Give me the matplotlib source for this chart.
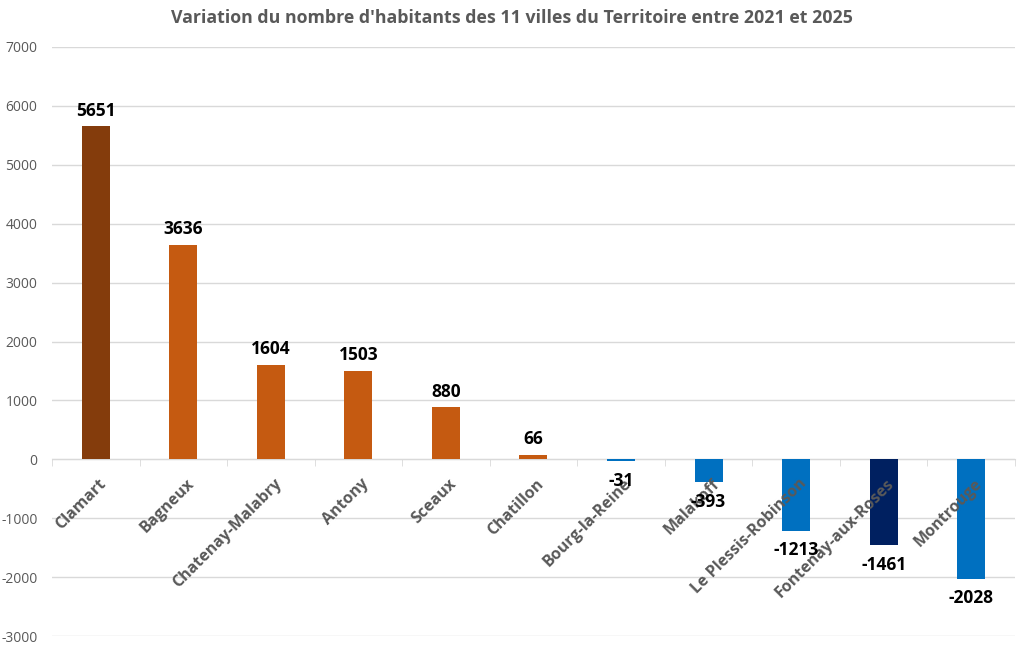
import matplotlib
matplotlib.use("Agg")
import matplotlib.pyplot as plt
import numpy as np

villes = ["Clamart", "Bagneux", "Chatenay-Malabry", "Antony", "Sceaux", "Chatillon",
          "Bourg-la-Reine", "Malakoff", "Le Plessis-Robinson", "Fontenay-aux-Roses", "Montrouge"]
variation = [5651, 3636, 1604, 1503, 880, 66, -31, -393, -1213, -1461, -2028]
couleurs = ["#843C0C", "#C55A11", "#C55A11", "#C55A11", "#C55A11", "#C55A11",
            "#0070C0", "#0070C0", "#0070C0", "#002060", "#0070C0"]
yticks = list(range(-3000, 7001, 1000))
titre = "Variation du nombre d'habitants des 11 villes du Territoire entre 2021 et 2025"

plt.rcParams['font.family'] = ['Open Sans', 'DejaVu Sans']

fig = plt.figure(figsize=(10.18, 6.49), dpi=100)
ax = fig.add_axes([0.0511, 0.020, 0.9459, 0.9076])

x = np.arange(len(villes))
ax.bar(x, variation, width=0.32, color=couleurs, zorder=3)

ax.set_xlim(-0.5, len(villes) - 0.5)
ax.set_ylim(-3000, 7000)
ax.set_yticks(yticks)
ax.set_yticklabels([str(v) for v in yticks], color="#595959", fontsize=10)
ax.yaxis.grid(True, color="#D9D9D9", linewidth=1, zorder=0)
ax.tick_params(axis='y', length=0, pad=10.5)
ax.set_axisbelow(True)

for s in ['left', 'right', 'top']:
    ax.spines[s].set_visible(False)
ax.spines['bottom'].set_position(('data', 0))
ax.spines['bottom'].set_color("#D9D9D9")

ax.set_xticks(x)
ax.set_xticklabels([])
ax.set_xticks(np.arange(-0.5, len(villes), 1.0), minor=True)
ax.tick_params(axis='x', which='major', length=0)
ax.tick_params(axis='x', which='minor', length=5, color="#D9D9D9")

for xi, name in zip(x, villes):
    ax.annotate(name, (xi, 0), xytext=(6, -16), textcoords='offset points',
                rotation=45, ha='right', va='center', rotation_mode='anchor',
                color="#595959", fontsize=11.5, fontweight='bold', zorder=6,
                annotation_clip=False)

for xi, v in zip(x, variation):
    if v >= 0:
        ax.annotate(str(v), (xi, v), xytext=(0, 5), textcoords='offset points',
                    ha='center', va='bottom', fontsize=12.5, fontweight='bold', color='black', zorder=7)
    else:
        ax.annotate(str(v), (xi, v), xytext=(0, -7.5), textcoords='offset points',
                    ha='center', va='top', fontsize=12.5, fontweight='bold', color='black', zorder=7)

fig.text(0.503, 0.972, titre, ha='center', va='center', fontsize=12.8,
         fontweight='bold', color="#595959")

fig.savefig("out.png", dpi=100)
